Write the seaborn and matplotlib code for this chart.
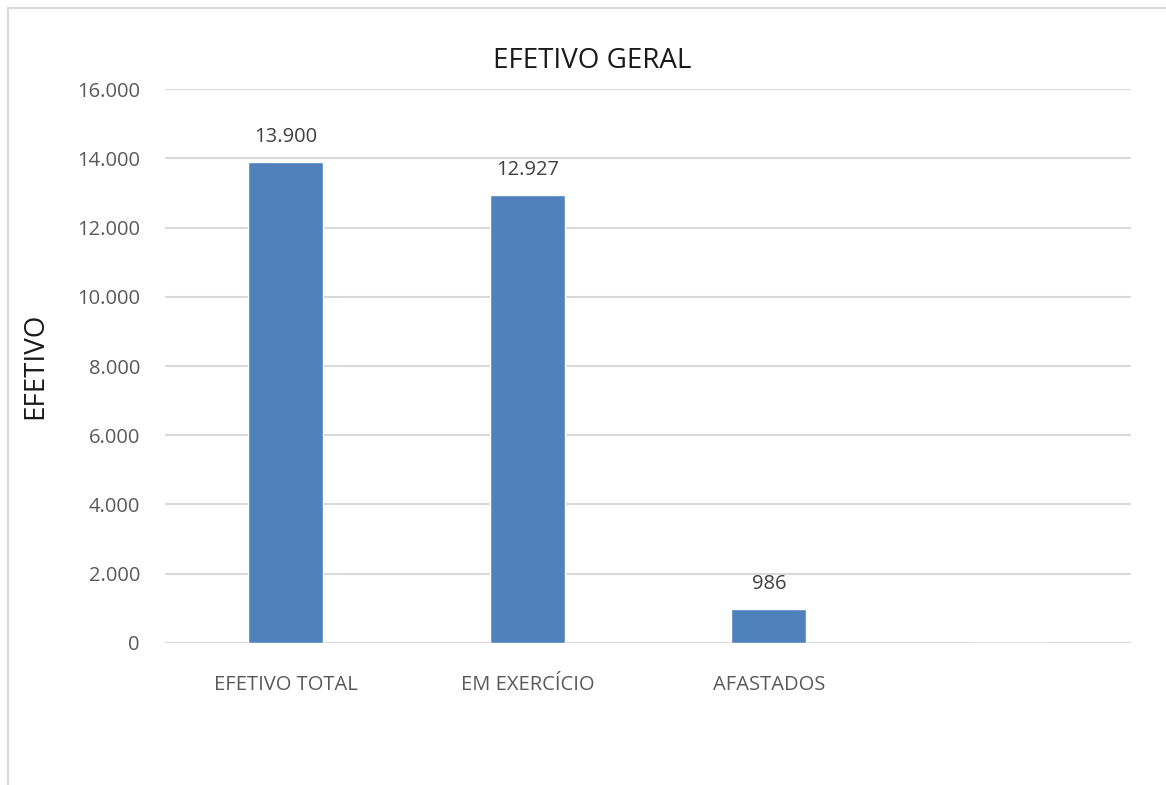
import matplotlib
matplotlib.use('Agg')
import matplotlib.pyplot as plt
import seaborn as sns
import pandas as pd
from matplotlib.patches import Rectangle

categorias = ['EFETIVO TOTAL', 'EM EXERCÍCIO', 'AFASTADOS', ' ']
valores = [13900, 12927, 986, 0]
rotulos = ['13.900', '12.927', '986', '']
ticks_y = [0, 2000, 4000, 6000, 8000, 10000, 12000, 14000, 16000]
ticks_y_txt = ['0', '2.000', '4.000', '6.000', '8.000', '10.000', '12.000', '14.000', '16.000']

df = pd.DataFrame({'cat': categorias, 'val': valores})

sns.set_style('white')
plt.rcParams['font.family'] = ['Open Sans', 'DejaVu Sans']
cinza = '#595959'

fig = plt.figure(figsize=(11.66, 7.85), dpi=100)
ax = fig.add_axes([0.1415, 0.1809, 0.8285, 0.7057])

# moldura externa do grafico
fig.patches.append(Rectangle((8 / 1166, -0.1), 1.2, (785 - 8) / 785 + 0.1,
                             transform=fig.transFigure, fill=False,
                             edgecolor='#D9D9D9', linewidth=1.5))

sns.barplot(data=df, x='cat', y='val', color='#4F81BD', width=0.31,
            saturation=1, ax=ax, zorder=3)

for i, (v, t) in enumerate(zip(valores, rotulos)):
    if t:
        ax.annotate(t, (i, v), xytext=(0, 18), textcoords='offset points',
                    ha='center', va='center', fontsize=14.5, color='#404040')

ax.set_ylim(0, 16000)
ax.set_xlim(-0.5, 3.5)
ax.set_yticks(ticks_y)
ax.set_yticklabels(ticks_y_txt)
ax.yaxis.grid(True, color='#D9D9D9', linewidth=1.5, zorder=0)
ax.set_axisbelow(True)
for s in ax.spines.values():
    s.set_visible(False)
ax.tick_params(axis='both', length=0, labelsize=14.5, labelcolor=cinza)
ax.tick_params(axis='y', pad=18)
ax.tick_params(axis='x', pad=23)
ax.set_xlabel('')
ax.set_ylabel('EFETIVO', fontsize=20, color='#1a1a1a', labelpad=20)
fig.text(592 / 1166, 1 - 61 / 785, 'EFETIVO GERAL', fontsize=20,
         color='#1a1a1a', ha='center', va='center')

fig.savefig('out.png', dpi=100)
